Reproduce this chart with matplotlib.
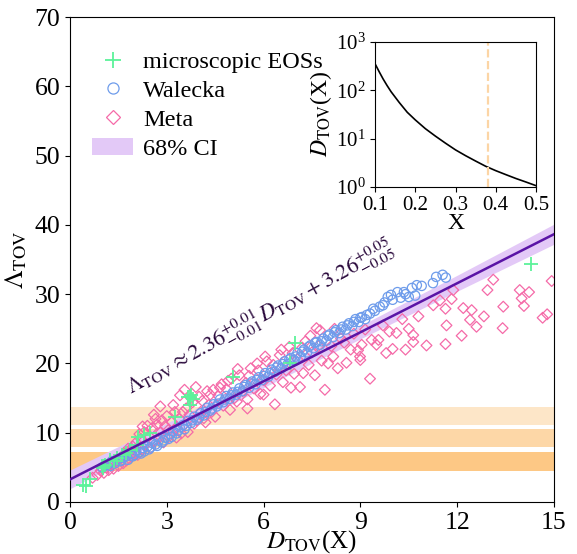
import numpy as np
import matplotlib
matplotlib.use("Agg")
import matplotlib.pyplot as plt
from matplotlib.patches import Patch
from matplotlib.lines import Line2D

plt.rcParams['font.family'] = ['Liberation Serif', 'DejaVu Serif']
plt.rcParams['mathtext.fontset'] = 'stix'

# microscopic EOSs
micro_D = [0.41, 0.50, 0.62, 1.00, 1.03, 1.10, 1.24, 1.35, 1.45, 1.60, 1.75, 1.86,
           2.07, 2.12, 2.30, 2.48, 3.25, 3.67, 3.72, 3.75, 3.80, 3.72, 5.06, 6.82,
           6.97, 14.29]
micro_L = [2.45, 2.30, 3.30, 5.20, 4.90, 5.40, 6.10, 5.90, 6.30, 6.80, 7.10, 7.50,
           8.20, 9.40, 9.60, 9.90, 12.30, 15.20, 14.00, 15.50, 14.80, 15.20, 18.10, 20.00,
           22.90, 34.40]

# Walecka models
wal_D = [1.00, 1.10, 1.20, 1.30, 1.40, 1.50, 1.55, 1.65, 1.75, 1.80, 1.90, 2.00,
         2.05, 2.15, 2.25, 2.30, 2.40, 2.50, 2.55, 2.65, 2.75, 2.85, 2.95, 3.05,
         3.10, 3.20, 3.30, 3.40, 3.50, 3.55, 3.65, 3.75, 3.85, 3.95, 4.05, 4.15,
         4.25, 4.35, 4.45, 4.55, 4.65, 4.75, 4.85, 4.95, 5.05, 5.15, 5.25, 5.35,
         5.45, 5.55, 5.65, 5.75, 5.85, 5.95, 6.05, 6.15, 6.25, 6.35, 6.45, 6.55,
         6.65, 6.75, 6.85, 6.95, 7.05, 7.15, 7.25, 7.35, 7.45, 7.55, 7.65, 7.75,
         7.85, 7.95, 8.05, 8.15, 8.25, 8.35, 8.45, 8.55, 8.65, 8.75, 8.85, 8.95,
         9.05, 9.15, 9.30, 9.45, 9.60, 9.75, 9.85, 10.00, 10.15, 10.25, 10.35, 10.50,
         10.70, 10.75, 10.90, 11.25, 11.35, 11.55, 11.65,
         1.25, 1.60, 1.95, 2.20, 2.45, 2.70, 2.90, 3.15, 3.35, 3.60, 3.80, 4.00,
         4.20, 4.40, 4.60, 4.80, 5.00, 5.20, 5.40, 5.60, 5.80, 6.00, 6.20, 6.40,
         6.60, 6.80, 7.00, 7.20, 7.40, 7.60, 7.80, 8.00, 8.20, 8.40, 8.60, 8.80,
         9.00, 9.20, 9.40, 9.70, 9.95, 10.40, 10.60]
wal_L = [5.0, 5.3, 5.5, 5.9, 5.6, 6.2, 5.9, 6.4, 6.6, 6.1, 7.0, 6.8,
         7.4, 7.2, 7.8, 7.3, 8.0, 7.9, 8.5, 8.3, 8.9, 8.6, 9.3, 9.1,
         9.8, 10.2, 9.9, 10.8, 11.1, 10.5, 11.7, 11.4, 12.3, 11.9, 12.8, 12.5,
         13.6, 13.2, 14.1, 13.8, 14.8, 14.4, 15.3, 14.9, 15.8, 15.5, 16.4, 16.0,
         16.9, 16.5, 17.4, 17.0, 18.0, 17.6, 18.6, 18.1, 19.1, 18.8, 19.7, 19.3,
         20.3, 19.9, 20.8, 20.5, 21.5, 21.0, 22.0, 21.6, 22.6, 22.2, 23.1, 22.7,
         23.6, 23.3, 24.2, 23.8, 24.8, 24.4, 25.3, 24.9, 25.8, 25.4, 26.4, 26.0,
         26.7, 26.4, 27.2, 27.6, 28.2, 28.8, 29.6, 29.2, 30.3, 29.5, 30.3, 29.6,
         29.8, 31.3, 31.2, 31.6, 32.5, 32.8, 32.4,
         5.2, 6.0, 6.6, 7.0, 7.6, 8.1, 8.9, 9.4, 10.3, 11.0, 11.8, 12.2,
         13.0, 13.5, 14.2, 14.8, 15.4, 15.9, 16.6, 17.1, 17.6, 18.2, 18.6, 19.4,
         19.9, 20.6, 21.0, 21.7, 22.4, 23.0, 23.2, 24.0, 24.5, 24.9, 25.5, 26.0,
         26.6, 27.0, 27.9, 28.4, 29.9, 30.0, 30.9]

# metamodel EOSs
meta_D = [0.70, 0.85, 0.95, 1.05, 1.15, 1.20, 1.30, 1.35, 1.45, 1.50, 1.60, 1.65,
          1.70, 1.75, 1.85, 1.90, 1.95, 2.00, 2.05, 2.10, 2.20, 2.25, 2.25, 2.30,
          2.35, 2.45, 2.50, 2.55, 2.60, 2.60, 2.70, 2.75, 2.80, 2.80, 2.85, 2.90,
          3.00, 3.05, 3.10, 3.15, 3.25, 3.30, 3.40, 3.41, 3.45, 3.55, 3.60, 3.65,
          3.70, 3.80, 3.85, 3.90, 3.93, 4.00, 4.05, 4.15, 4.25, 4.30, 4.39, 4.44,
          4.50, 4.60, 4.70, 4.75, 4.85, 4.96, 5.00, 5.10, 5.17, 5.25, 5.35, 5.45,
          5.50, 5.60, 5.70, 5.84, 5.90, 6.00, 6.10, 6.20, 6.35, 6.40, 6.50, 6.60,
          6.70, 6.80, 6.85, 6.95, 7.05, 7.13, 7.23, 7.30, 7.40, 7.50, 7.59, 7.64,
          7.75, 7.80, 7.90, 8.00, 8.10, 8.16, 8.30, 8.40, 8.57, 8.70, 8.80, 8.93,
          8.99, 9.04, 9.15, 9.30, 9.35, 9.50, 9.56, 9.70, 9.90, 10.00, 10.12, 10.30,
          10.50, 10.64, 10.64, 10.80, 11.05, 11.26, 11.47, 11.64, 11.67, 11.64, 11.83, 11.88,
          12.14, 12.19, 12.40, 12.45, 12.60, 12.83, 12.94, 13.12, 13.41, 13.43, 13.94, 14.00,
          14.07, 14.23, 14.65, 14.79, 14.93,
          1.40, 1.80, 2.15, 2.40, 2.65, 2.95, 3.20, 3.50, 3.75, 4.10, 4.35, 4.65,
          4.90, 5.20, 5.55, 5.80, 6.05, 6.30, 6.55, 6.90, 7.20, 7.45, 7.70, 8.20,
          8.50, 9.00, 9.80, 10.40, 6.00, 5.50, 4.20, 3.30]
meta_L = [3.5, 3.9, 4.5, 4.2, 5.0, 4.6, 5.4, 4.8, 6.0, 5.2, 6.5, 5.6,
          7.0, 6.0, 7.3, 6.5, 8.0, 7.0, 8.6, 6.8, 9.1, 7.5, 10.9, 10.1,
          8.3, 9.5, 7.8, 10.7, 8.8, 12.6, 11.2, 9.2, 10.0, 13.8, 11.8, 8.6,
          12.4, 10.4, 9.6, 11.5, 13.0, 10.8, 12.0, 15.4, 9.9, 16.2, 13.5, 10.1,
          12.6, 14.4, 11.3, 16.6, 11.8, 15.2, 13.0, 12.1, 16.0, 14.0, 13.0, 16.2,
          12.3, 15.3, 17.0, 13.9, 16.3, 13.3, 17.8, 15.0, 14.5, 18.3, 16.0, 17.2,
          14.8, 19.3, 16.4, 19.0, 15.6, 17.6, 20.3, 16.8, 14.1, 18.4, 21.2, 17.3,
          19.0, 22.4, 16.5, 18.5, 20.6, 16.6, 18.6, 23.2, 19.8, 21.6, 18.3, 25.1,
          24.8, 20.4, 16.2, 20.0, 22.5, 21.0, 19.3, 23.6, 20.1, 22.0, 24.3, 21.9,
          21.0, 22.7, 24.9, 17.8, 23.4, 22.7, 23.4, 25.5, 24.6, 22.1, 24.4, 26.4,
          25.0, 24.1, 23.1, 26.8, 22.6, 28.4, 29.1, 27.9, 25.5, 22.8, 29.3, 30.6,
          24.0, 28.0, 26.3, 27.7, 25.3, 26.8, 30.6, 32.1, 25.1, 28.2, 30.6, 29.4,
          28.3, 30.3, 26.6, 27.1, 31.9,
          5.8, 7.7, 9.8, 11.0, 12.0, 11.0, 14.0, 13.0, 15.0, 14.6, 15.5, 16.5,
          17.5, 19.2, 18.2, 20.0, 21.0, 19.8, 22.0, 21.5, 22.3, 24.0, 22.5, 25.0,
          23.0, 20.5, 21.5, 22.0, 15.5, 13.5, 11.5, 9.3]

# fit coefficients and 68% band half width
slope, intercept = 2.36, 3.26
ci_D = [0, 3, 6, 9, 12, 15]
ci_half = [1.35, 1.05, 0.9, 0.95, 1.15, 1.45]

# horizontal constraint bands (lower, upper)
band_lo = [11.1, 7.9, 4.5]
band_hi = [13.75, 10.5, 7.17]
band_colors = ['#fde6c8', '#fdd7a7', '#fdc885']

# inset curve D_TOV(X)
inset_X = [0.10, 0.11, 0.12, 0.13, 0.14, 0.16, 0.18, 0.20, 0.225, 0.25, 0.275, 0.30,
           0.325, 0.35, 0.375, 0.40, 0.425, 0.45, 0.475, 0.50]
inset_D = [355, 245, 172, 125, 93, 56, 35, 24.3, 16.0, 11.2, 8.0, 5.8,
           4.4, 3.4, 2.65, 2.15, 1.78, 1.48, 1.25, 1.05]
X_mark = 0.38

c_micro = '#5cf29a'
c_wal = '#6e9ceb'
c_meta = '#f56aa8'
c_line = '#5a14a6'
c_ci = '#e3c9f7'

fig = plt.figure(figsize=(5.77, 5.54), dpi=100)
ax = fig.add_axes([0.1213, 0.0939, 0.8387, 0.8751])

for lo, hi, col in zip(band_lo, band_hi, band_colors):
    ax.axhspan(lo, hi, color=col, lw=0, zorder=0)

xx = np.linspace(0, 15, 200)
fit = slope * xx + intercept
half = np.interp(xx, ci_D, ci_half)
ax.fill_between(xx, fit - half, fit + half, color=c_ci, lw=0, zorder=1)

ax.scatter(meta_D, meta_L, marker='D', s=30, facecolors='none', edgecolors=c_meta,
           linewidths=0.9, zorder=2)
ax.scatter(wal_D, wal_L, marker='o', s=45, facecolors='none', edgecolors=c_wal,
           linewidths=0.9, zorder=3)
ax.scatter(micro_D, micro_L, marker='+', s=90, color=c_micro, linewidths=1.3, zorder=4)
ax.plot(xx, fit, color=c_line, lw=1.8, zorder=5)

ax.text(1.9, 15.4,
        r'$\Lambda_{\rm TOV} \approx 2.36^{+0.01}_{-0.01}\, D_{\rm TOV} + 3.26^{+0.05}_{-0.05}$',
        rotation=28.5, rotation_mode='anchor', ha='left', va='baseline',
        fontsize=16, color='#2b0a3d', zorder=6)

ax.set_xlim(0, 15)
ax.set_ylim(0, 70)
ax.set_xticks([0, 3, 6, 9, 12, 15])
ax.set_yticks([0, 10, 20, 30, 40, 50, 60, 70])
ax.tick_params(labelsize=18.5)
ax.set_xlabel(r'$D_{\rm TOV}$(X)', fontsize=18, labelpad=-4)
ax.set_ylabel(r'$\Lambda_{\rm TOV}$', fontsize=19, labelpad=4)

handles = [
    Line2D([], [], marker='+', ls='none', color=c_micro, markersize=11, mew=1.3),
    Line2D([], [], marker='o', ls='none', markerfacecolor='none', markeredgecolor=c_wal,
           markersize=8, mew=0.9),
    Line2D([], [], marker='D', ls='none', markerfacecolor='none', markeredgecolor=c_meta,
           markersize=7.5, mew=0.9),
    Patch(facecolor=c_ci, edgecolor='none'),
]
labels = ['microscopic EOSs', 'Walecka', 'Meta', '68% CI']
ax.legend(handles, labels, loc='upper left', frameon=False, fontsize=17.5,
          bbox_to_anchor=(0.0, 0.975), handlelength=1.7, handletextpad=0.4,
          labelspacing=0.28)

# inset: D_TOV as a function of X
axi = fig.add_axes([0.650, 0.663, 0.279, 0.261])
axi.plot(inset_X, inset_D, color='black', lw=1.2)
axi.axvline(X_mark, color='#fcd5a5', ls='--', lw=1.6)
axi.set_yscale('log')
axi.set_xlim(0.1, 0.5)
axi.set_ylim(1, 1000)
axi.set_xticks([0.1, 0.2, 0.3, 0.4, 0.5])
axi.set_yticks([1, 10, 100, 1000])
axi.minorticks_off()
axi.tick_params(labelsize=15)
axi.set_xlabel('X', fontsize=17, labelpad=-2)
axi.set_ylabel(r'$D_{\rm TOV}$(X)', fontsize=17, labelpad=1)

fig.savefig('out.png', dpi=100)
